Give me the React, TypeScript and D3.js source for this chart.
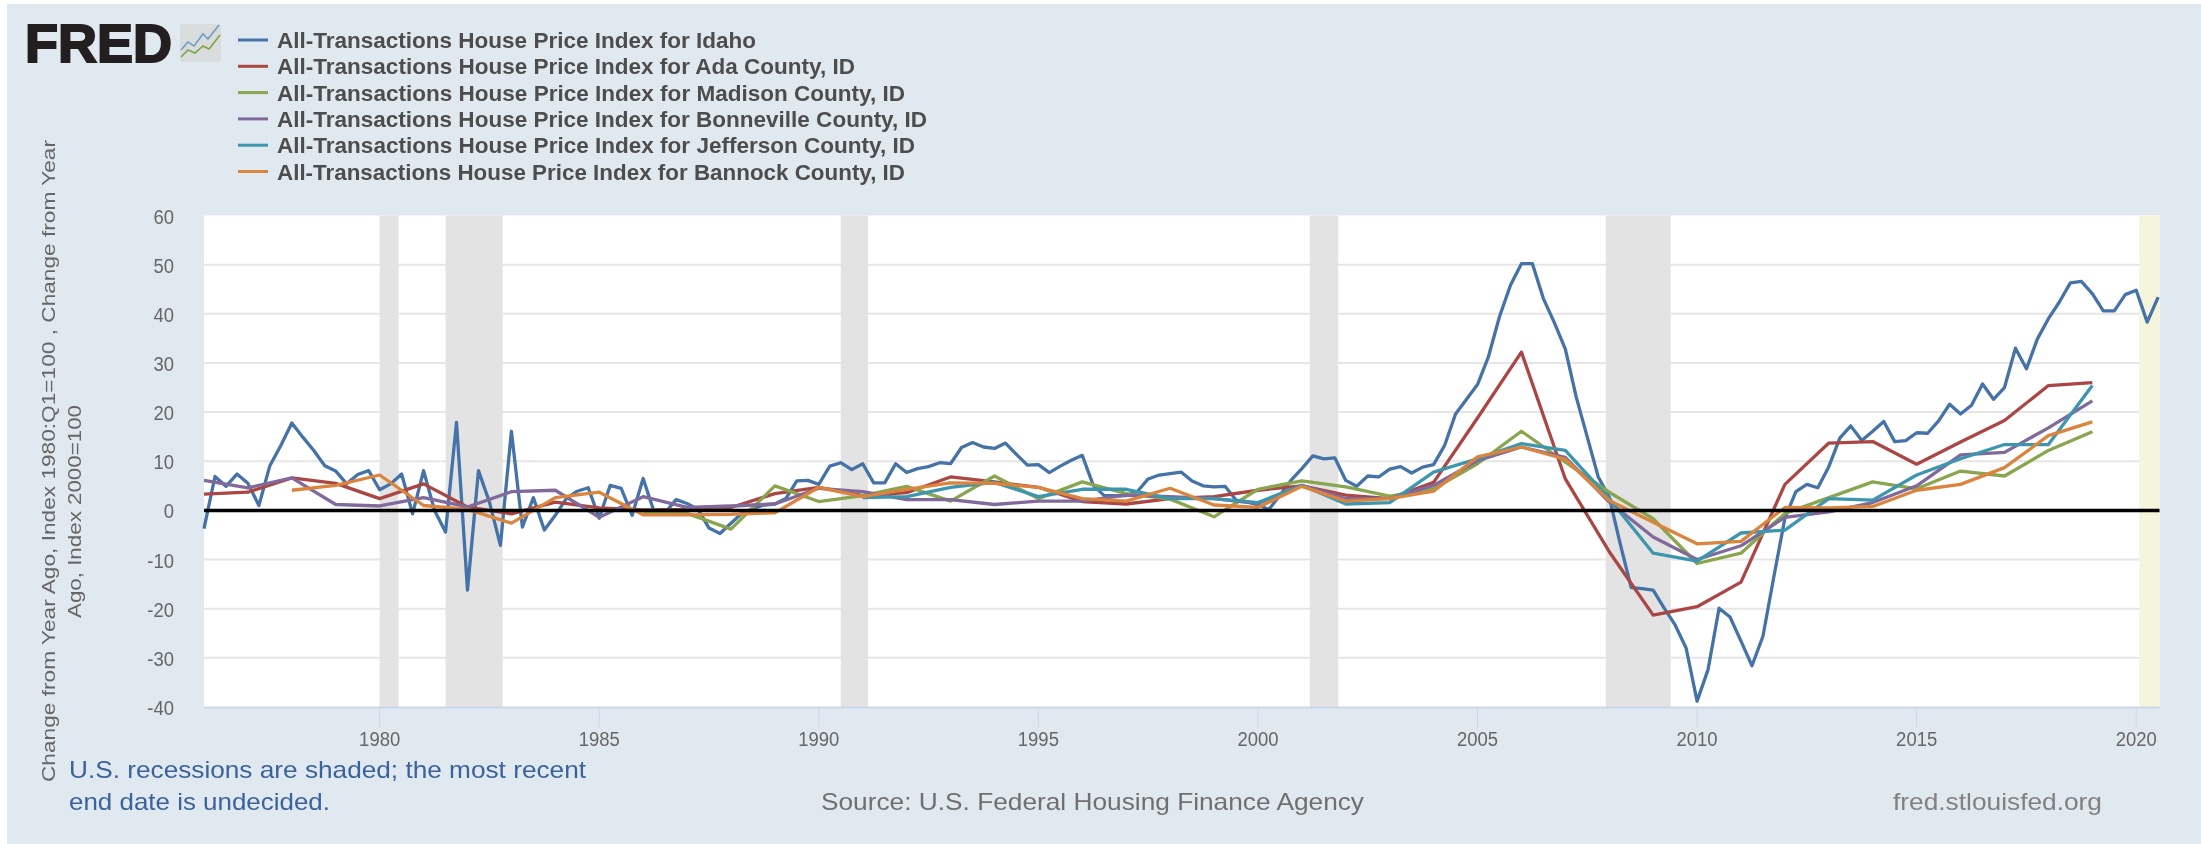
import React from "react";
import * as d3 from "d3";

const idahoQuarterly = [
  -3.7, 6.9, 4.9, 7.4, 5.5, 1.0, 9.1, 13.2, 17.8, 14.9, 12.2, 9.1, 8.0, 5.4, 7.3, 8.1, 4.2, 5.4, 7.4, -0.7,
  8.1, 0, -4.4, 17.9, -16.2, 8.1, 1.7, -7.1, 16.1, -3.4, 2.6, -4.0, -1.0, 2.4, 3.9, 4.6, -1.6, 5.1, 4.5, -1,
  6.5, -0.3, -0.5, 2.2, 1.4, 0.2, -3.6, -4.7, -2.6, -0.6, 0.4, 1.1, 1.3, 2.4, 6.0, 6.1, 5.3, 9.0, 9.7, 8.3,
  9.5, 5.6, 5.6, 9.5, 7.7, 8.5, 8.9, 9.7, 9.5, 12.8, 13.8, 12.9, 12.6, 13.7, 11.4, 9.2, 9.3, 7.7, 9, 10.2,
  11.2, 5.1, 3, 3, 3, 3.8, 6.4, 7.2, 7.5, 7.8, 6, 5, 4.8, 4.9, 2.1, 1.8, 1.1, 0.2, 3.1, 6.1,
  8.5, 11.1, 10.5, 10.7, 6.1, 4.9, 7, 6.8, 8.4, 8.9, 7.6, 8.8, 9.3, 13.2, 19.6, 22.6, 25.6, 31.3, 39.4, 45.8,
  50.2, 50.2, 43.1, 38.2, 32.8, 23, 14.9, 6.8, 2.7, -6.8, -15.7, -15.9, -16.2, -19.9, -23.3, -28, -38.8, -32.4, -19.9, -21.7,
  -26.6, -31.6, -25.6, -13.4, -1.6, 3.8, 5.3, 4.6, 8.9, 14.7, 17.2, 14.2, 16.1, 18.1, 14, 14.2, 15.8, 15.7, 18.2, 21.6,
  19.6, 21.4, 25.7, 22.6, 25, 33, 28.8, 34.9, 39, 42.4, 46.3, 46.6, 44.1, 40.6, 40.6, 43.9, 44.8, 38.3, 43.4,
];
const adaAnnual = [3.3, 3.7, 6.6, 5.5, 2.4, 5.4, 0.7, -0.7, 1.7, 0.5, 0.1, 0.2, 0.6, 3.4, 4.7, 3, 3.6, 6.8, 5.8, 4.7, 1.8, 1.3, 2.4, 2.8, 4.1, 5, 3.1, 2.4, 5.7, 18.8, 32.2, 6.4, -8.4, -21.3, -19.6, -14.6, 5.3, 13.7, 14, 9.4, 13.9, 18.3, 25.4, 26];
const madisonAnnual = [-0.5, -0.6, -3.8, 5, 1.8, 3, 4.9, 1.9, 7, 2.4, 5.8, 3.4, 2.3, -1.3, 4.3, 6, 4.8, 2.9, 4.4, 9.5, 16.1, 9.8, 3.7, -1.7, -10.8, -8.7, -0.6, 2.6, 5.8, 4.4, 8, 7, 12.2, 16];
const bonnevilleAnnual = [6.1, 4.6, 6.6, 1.2, 0.9, 2.6, 0.7, 3.8, 4.1, -1.4, 2.8, 0.6, 0.9, 1.3, 4.5, 3.8, 2.2, 2.2, 1.2, 1.9, 1.9, 3.1, 2.8, 2.4, 1.4, 5.1, 2.4, 2.4, 5.1, 10.1, 12.9, 10.8, 1.7, -5.4, -10, -7.2, -1.4, -0.3, 1.6, 5, 11.3, 11.8, 16.8, 22.3];
const jeffersonAnnual = [2.6, 2.8, 4.7, 5.7, 2.8, 4.3, 4.3, 2.4, 2.4, 1.6, 5.1, 1.3, 1.6, 7.8, 10.5, 13.6, 12.2, 2.4, -8.7, -10.3, -4.6, -4.0, 2.4, 2.1, 7.2, 10.5, 13.4, 13.4, 25.4];
const bannockAnnual = [4.1, 5.1, 7.2, 1.0, 0.2, -2.6, 2.6, 3.7, -0.9, -0.9, -0.8, -0.5, 4.7, 2.8, 4.3, 5.6, 5.5, 4.7, 2.4, 1.9, 4.5, 1.1, 0.6, 4.9, 1.9, 2.4, 3.9, 10.9, 12.9, 10.4, 2, -2.4, -6.8, -6.3, 0.6, 0.5, 0.8, 4.1, 5.3, 8.7, 15.2, 18];

const legendNames = [
  "All-Transactions House Price Index for Idaho",
  "All-Transactions House Price Index for Ada County, ID",
  "All-Transactions House Price Index for Madison County, ID",
  "All-Transactions House Price Index for Bonneville County, ID",
  "All-Transactions House Price Index for Jefferson County, ID",
  "All-Transactions House Price Index for Bannock County, ID",
];
const legendWidths = [479, 578, 628, 650, 638, 628];
const colors = ["#4572a7", "#aa4643", "#89a54e", "#80699b", "#3d96ae", "#db843d"];
const recessions: [number, number][] = [[1980.0, 1980.43], [1981.5, 1982.8], [1990.5, 1991.12], [2001.18, 2001.83], [2007.92, 2009.4]];
const undecided: [number, number] = [2020.07, 2020.53];
const yTicks = [60, 50, 40, 30, 20, 10, 0, -10, -20, -30, -40];
const xTicks = [1980, 1985, 1990, 1995, 2000, 2005, 2010, 2015, 2020];

const annual = (start: number, vals: number[]) => vals.map((v, i) => [start + i, v] as [number, number]);
const seriesData: [number, number][][] = [
  idahoQuarterly.map((v, i) => [1976 + i / 4, v] as [number, number]),
  annual(1976, adaAnnual),
  annual(1986, madisonAnnual),
  annual(1976, bonnevilleAnnual),
  annual(1991, jeffersonAnnual),
  annual(1978, bannockAnnual),
];

const FONT = "'Liberation Sans', Arial, sans-serif";

export default function App() {
  const x = d3.scaleLinear().domain([1976, 2020.53]).range([204, 2159.5]);
  const y = d3.scaleLinear().domain([-40, 60]).range([707, 215.5]);
  const line = d3.line<[number, number]>().x((d) => x(d[0])).y((d) => y(d[1]));
  return (
    <svg
      width={2201}
      height={844}
      style={{ position: "fixed", left: 0, top: 0, display: "block", fontFamily: FONT, filter: "blur(0.6px)" }}
    >
      <rect x={0} y={0} width={2201} height={844} fill="#ffffff" />
      <rect x={7} y={4} width={2194} height={840} fill="#e1e9f0" />
      <rect x={204} y={215.5} width={1955.5} height={491.5} fill="#ffffff" />

      {yTicks.filter((t) => t !== 60 && t !== -40).map((t) => (
        <line key={t} x1={204} x2={2159.5} y1={y(t)} y2={y(t)} stroke="#e6e6e6" strokeWidth={2} />
      ))}
      {recessions.map(([a, b]) => (
        <rect key={a} x={x(a)} y={215.5} width={x(b) - x(a)} height={491.5} fill="#e3e3e3" />
      ))}
      <rect x={x(undecided[0])} y={215.5} width={x(undecided[1]) - x(undecided[0])} height={491.5} fill="#f5f5dc" />

      <line x1={204} x2={2159.5} y1={707.5} y2={707.5} stroke="#ccd6eb" strokeWidth={2} />
      {xTicks.map((t) => (
        <g key={t}>
          <line x1={x(t)} x2={x(t)} y1={707} y2={727} stroke="#ccd6eb" strokeWidth={1} />
          <text transform={`translate(${x(t)},746) scale(0.88,1)`} textAnchor="middle" fontSize={21} fill="#666666">{t}</text>
        </g>
      ))}
      {yTicks.map((t) => (
        <text key={t} transform={`translate(174,${y(t) + 8}) scale(0.88,1)`} textAnchor="end" fontSize={21} fill="#666666">{t}</text>
      ))}

      {seriesData.map((d, i) => (
        <path key={i} d={line(d) ?? ""} fill="none" stroke={colors[i]} strokeWidth={3.3} strokeLinejoin="round" />
      ))}
      <line x1={204} x2={2159.5} y1={y(0)} y2={y(0)} stroke="#000000" strokeWidth={3.5} />

      <text x={25} y={62} fontSize={54} fontWeight={700} fill="#231f20" stroke="#231f20" strokeWidth={2} textLength={147} lengthAdjust="spacingAndGlyphs">FRED</text>
      <rect x={180} y={24} width={41} height={38} rx={3} fill="#d9dcdc" />
      <polyline points="181,50 188,42 194,46 203,34 208,39 219,25" fill="none" stroke="#6f9ac6" strokeWidth={1.5} />
      <polyline points="181,57 188,50 195,53 203,46 209,49 220,35" fill="none" stroke="#7aa641" strokeWidth={1.5} />

      {legendNames.map((name, i) => {
        const ly = 41 + i * 26.3;
        return (
          <g key={name}>
            <line x1={238} x2={268} y1={ly - 1} y2={ly - 1} stroke={colors[i]} strokeWidth={3} />
            <text x={277} y={ly + 7} fontSize={22} fontWeight={700} fill="#4d4d4d" textLength={legendWidths[i]} lengthAdjust="spacingAndGlyphs">{name}</text>
          </g>
        );
      })}

      <text transform="translate(55,782) rotate(-90)" fontSize={19} fill="#666666" textLength={642} lengthAdjust="spacingAndGlyphs">
        Change from Year Ago, Index 1980:Q1=100 , Change from Year
      </text>
      <text transform="translate(81,618) rotate(-90)" fontSize={19} fill="#666666" textLength={213} lengthAdjust="spacingAndGlyphs">
        Ago, Index 2000=100
      </text>

      <text x={69} y={778} fontSize={24} fill="#3c629c" textLength={517} lengthAdjust="spacingAndGlyphs">U.S. recessions are shaded; the most recent</text>
      <text x={69} y={810} fontSize={24} fill="#3c629c" textLength={261} lengthAdjust="spacingAndGlyphs">end date is undecided.</text>
      <text x={821} y={810} fontSize={24} fill="#6f6f6f" textLength={543} lengthAdjust="spacingAndGlyphs">Source: U.S. Federal Housing Finance Agency</text>
      <text x={1893} y={810} fontSize={24} fill="#808080" textLength={209} lengthAdjust="spacingAndGlyphs">fred.stlouisfed.org</text>
    </svg>
  );
}
